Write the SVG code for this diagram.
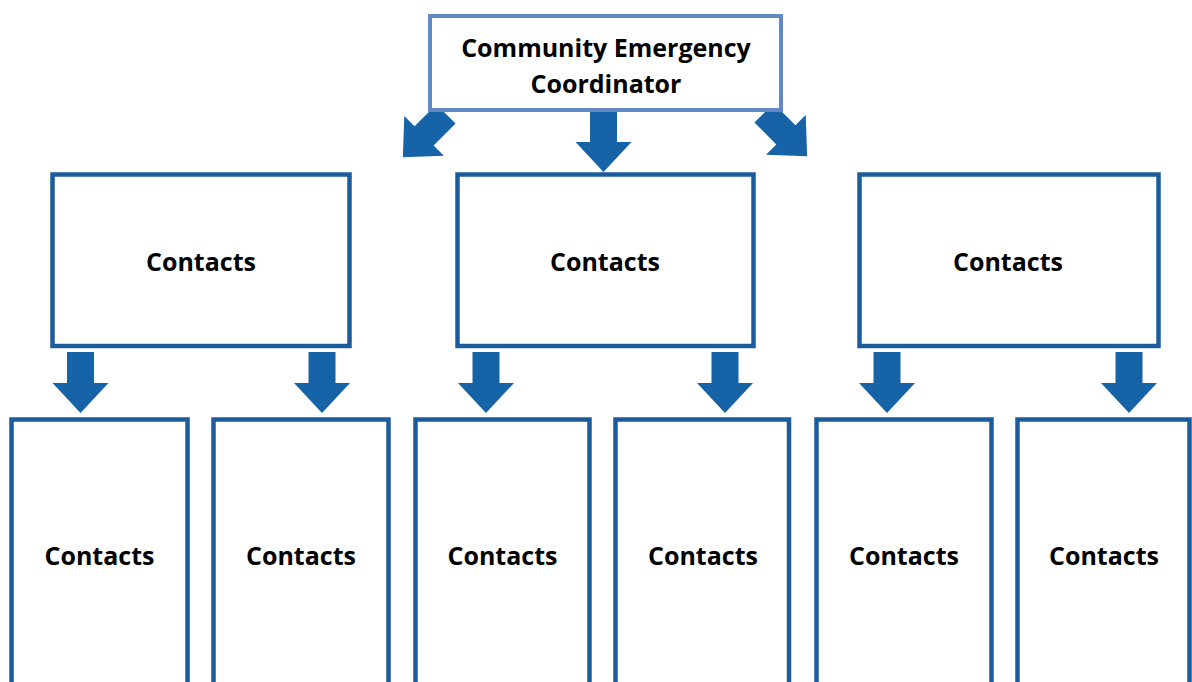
<svg xmlns="http://www.w3.org/2000/svg" width="1192" height="682" viewBox="0 0 1192 682">
<style>
  .box { fill: #ffffff; stroke: #1c5c9d; stroke-width: 4.5; }
  .top { fill: #ffffff; stroke: #6389c5; stroke-width: 4; }
  .lbl { font-family: "Open Sans", "Liberation Sans", sans-serif; font-weight: 700; font-size: 25px; fill: #000000; text-anchor: middle; }
  .arr { fill: #1763a7; }
</style>
<defs>
  <path id="arrow" d="M-13.5,0 H13.5 V31 H28 L0,61 L-28,31 H-13.5 Z"/>
</defs>
<rect width="1192" height="682" fill="#ffffff"/>
<g id="connectors">
  <use href="#arrow" class="arr" transform="translate(446,114) rotate(45)"/>
  <use href="#arrow" class="arr" transform="translate(603.5,111)"/>
  <use href="#arrow" class="arr" transform="translate(764,113) rotate(-45)"/>
  <use href="#arrow" class="arr" transform="translate(80.5,352)"/>
  <use href="#arrow" class="arr" transform="translate(322,352)"/>
  <use href="#arrow" class="arr" transform="translate(486,352)"/>
  <use href="#arrow" class="arr" transform="translate(725,352)"/>
  <use href="#arrow" class="arr" transform="translate(887,352)"/>
  <use href="#arrow" class="arr" transform="translate(1129,352)"/>
</g>
<g id="coordinator">
  <rect class="top" x="430" y="16" width="351" height="94"/>
  <text class="lbl" x="606" y="57">Community Emergency</text>
  <text class="lbl" x="606" y="93">Coordinator</text>
</g>
<g id="contacts-l">
  <rect class="box" x="52.5" y="174.5" width="297" height="171.5"/>
  <text class="lbl" x="201" y="271">Contacts</text>
</g>
<g id="contacts-c">
  <rect class="box" x="457.5" y="174.5" width="296" height="171.5"/>
  <text class="lbl" x="605" y="271">Contacts</text>
</g>
<g id="contacts-r">
  <rect class="box" x="859.5" y="174.5" width="299" height="171.5"/>
  <text class="lbl" x="1008" y="271">Contacts</text>
</g>
<g id="contacts-1">
  <rect class="box" x="11.5" y="419.5" width="176" height="290"/>
  <text class="lbl" x="99.5" y="565">Contacts</text>
</g>
<g id="contacts-2">
  <rect class="box" x="213.5" y="419.5" width="175" height="290"/>
  <text class="lbl" x="301" y="565">Contacts</text>
</g>
<g id="contacts-3">
  <rect class="box" x="415.5" y="419.5" width="174" height="290"/>
  <text class="lbl" x="502.5" y="565">Contacts</text>
</g>
<g id="contacts-4">
  <rect class="box" x="615.5" y="419.5" width="173.5" height="290"/>
  <text class="lbl" x="703" y="565">Contacts</text>
</g>
<g id="contacts-5">
  <rect class="box" x="816.5" y="419.5" width="175" height="290"/>
  <text class="lbl" x="904" y="565">Contacts</text>
</g>
<g id="contacts-6">
  <rect class="box" x="1017.5" y="419.5" width="172" height="290"/>
  <text class="lbl" x="1104" y="565">Contacts</text>
</g>
</svg>
